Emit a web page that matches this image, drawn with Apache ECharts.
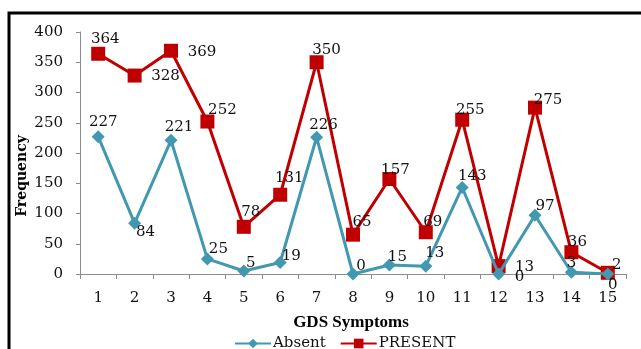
<!DOCTYPE html>
<html>
<head>
<meta charset="utf-8">
<script src="https://cdn.jsdelivr.net/npm/echarts@6/dist/echarts.min.js"></script>
<style>
  html, body { margin: 0; padding: 0; background: #fff; }
  #chart { width: 641px; height: 349px; }
</style>
</head>
<body>
<div id="chart"></div>
<script>
// GDS symptom frequencies by response
const symptoms = ['1','2','3','4','5','6','7','8','9','10','11','12','13','14','15'];
const absent  = [227, 84, 221, 25, 5, 19, 226, 0, 15, 13, 143, 0, 97, 3, 0];
const present = [364, 328, 369, 252, 78, 131, 350, 65, 157, 69, 255, 13, 275, 36, 2];
const yTicks = { min: 0, max: 400, step: 50 };

// where each value label sits relative to its marker (px)
const absentLabelOffset = [[5,-15],[11,9],[8,-13],[11,-10],[7,-8],[11,-6],[7,-12],[8,-8],[8,-8],[9,-13],[10,-11],[21,3],[10,-9],[0,-9],[5,11]];
const presentLabelOffset = [[7,-15],[31,1],[31,1],[15,-11],[7,-15],[9,-17],[10,-12],[9,-13],[6,-9],[7,-10],[8,-10],[26,1],[13,-8],[6,-10],[9,-8]];

const FONT = 'DejaVu Serif';
const TEAL = '#4298B0';
const RED = '#C00000';

function withLabels(values, offsets) {
  return values.map((v, i) => ({
    value: v,
    label: { offset: offsets[i] }
  }));
}

const chart = echarts.init(document.getElementById('chart'));
chart.setOption({
  animation: false,
  grid: { left: 80, right: 15, top: 32, bottom: 75 },
  xAxis: {
    type: 'category',
    data: symptoms,
    boundaryGap: true,
    axisLine: { lineStyle: { color: '#8c8c8c', width: 1 } },
    axisTick: { show: true, alignWithLabel: false, length: 5, lineStyle: { color: '#8c8c8c' } },
    axisLabel: { color: '#111', fontFamily: FONT, fontSize: 15, margin: 17 },
    splitLine: { show: false }
  },
  yAxis: {
    type: 'value',
    min: yTicks.min, max: yTicks.max, interval: yTicks.step,
    axisLine: { show: true, lineStyle: { color: '#8c8c8c', width: 1 } },
    axisTick: { show: true, length: 4, lineStyle: { color: '#8c8c8c' } },
    axisLabel: { color: '#111', fontFamily: FONT, fontSize: 15, margin: 17 },
    splitLine: { show: false }
  },
  legend: {
    top: 331,
    left: 229,
    itemWidth: 36,
    itemHeight: 12,
    itemGap: 14,
    textStyle: { fontFamily: FONT, fontSize: 15, color: '#111', padding: [0, 0, 0, -3] },
    data: ['Absent', 'PRESENT']
  },
  graphic: [
    {
      type: 'polyline',
      shape: { points: [[9, 349], [9, 13], [641, 13]] },
      style: { stroke: '#000', lineWidth: 3, fill: null }
    },
    {
      type: 'text',
      x: 351, y: 323,
      style: { text: 'GDS Symptoms', font: 'bold 17px "Liberation Serif"', fill: '#000', align: 'center', verticalAlign: 'middle' }
    },
    {
      type: 'text',
      x: 22, y: 176,
      rotation: Math.PI / 2,
      style: { text: 'Frequency', font: 'bold 14px "DejaVu Serif"', fill: '#000', align: 'center', verticalAlign: 'middle' }
    }
  ],
  series: [
    {
      name: 'Absent',
      type: 'line',
      data: withLabels(absent, absentLabelOffset),
      symbol: 'diamond',
      symbolSize: 13,
      itemStyle: { color: TEAL },
      lineStyle: { color: TEAL, width: 3 },
      label: { show: true, position: 'inside', color: '#111', fontFamily: FONT, fontSize: 15 },
      z: 3
    },
    {
      name: 'PRESENT',
      type: 'line',
      data: withLabels(present, presentLabelOffset),
      symbol: 'rect',
      symbolSize: 14,
      itemStyle: { color: RED },
      lineStyle: { color: RED, width: 3 },
      label: { show: true, position: 'inside', color: '#111', fontFamily: FONT, fontSize: 15 },
      z: 2
    }
  ]
});
</script>
</body>
</html>
